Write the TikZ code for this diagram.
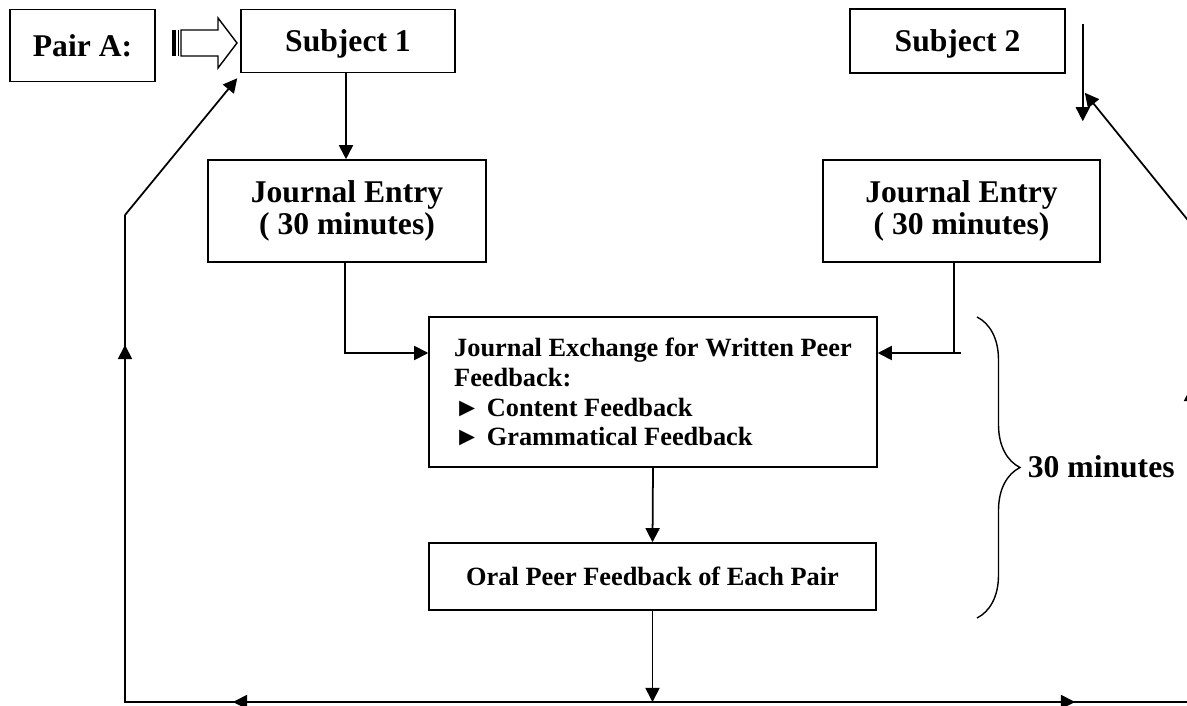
\documentclass[tikz,border=0pt]{standalone}
\usepackage{fontspec}
\setmainfont{Liberation Serif}
\usetikzlibrary{arrows.meta,calc,decorations.pathreplacing}

\begin{document}
\begin{tikzpicture}[x=0.02cm,y=-0.02cm,line width=1pt,
    >={Triangle[length=8pt,width=8pt]},
    box/.style={draw,line width=0.9pt,inner sep=0pt,align=center,
      font=\bfseries\fontsize{18}{18}\selectfont},
    smallbox/.style={box,font=\bfseries\fontsize{15}{17}\selectfont}]
  \useasboundingbox (0,0) rectangle (1187,706);
  \clip (0,0) rectangle (1187,706);
  \draw
    (82.5,45.5) node[box,minimum width=2.9cm,minimum height=1.44cm] (pair){Pair A:}
    (348,41) node[box,text depth=0pt,minimum width=4.28cm,minimum height=1.26cm] (subA){Subject 1}
    (957.5,41) node[box,text depth=0pt,minimum width=4.3cm,minimum height=1.28cm] (subB){Subject 2}
    (347,211) node[box,minimum width=5.56cm,minimum height=2.04cm] (jeA){Journal Entry\\( 30 minutes)}
    (961.5,211) node[box,minimum width=5.54cm,minimum height=2.04cm] (jeB){Journal Entry\\( 30 minutes)}
    (653,392) node[smallbox,align=left,minimum width=8.96cm,minimum height=3cm] (exch){Journal Exchange for Written Peer\\Feedback:\\► Content Feedback\\► Grammatical Feedback}
    (652.5,576.5) node[smallbox,minimum width=8.94cm,minimum height=1.34cm] (oral){Oral Peer Feedback of Each Pair};
  \node[anchor=west,inner sep=0pt,font=\bfseries\fontsize{18}{18}\selectfont] (dur) at (1027,467) {30 minutes};

  % striped arrow from Pair A
  \fill (172,30) rectangle (175.5,56);
  \draw[line width=0.8pt] (178.5,30) -- (178.5,56);
  \draw[line width=0.8pt] (181,30) -- (218,30) -- (218,18) -- (237,43)
    -- (218,68) -- (218,56) -- (181,56) -- cycle;

  \coordinate (a1) at ($(subA.south)+(-2,0)$);
  \coordinate (kA) at ($(exch.west)+(-83,-39)$);
  \coordinate (kB) at ($(exch.east)+(76,-39)$);
  \coordinate (dn) at ($(subB.north east)+(17,16)$);
  \coordinate (bl) at (125,702);
  \coordinate (br) at (1191,702);
  \coordinate (lt) at (125,215);
  \coordinate (rt) at (1191,224);
  \coordinate (hub) at (oral.south |- bl);

  \begin{scope}[->]
    \draw (a1) -- (a1 |- jeA.north);
    \draw[-] (kA |- jeA.south) -- (kA);
    \draw ($(kA)+(-1,0)$) -- (kA -| exch.west);
    \draw[-] (kB |- jeB.south) -- (kB);
    \draw ($(kB)+(7,0)$) -- (kB -| exch.east);
    \draw (exch.south) -- (oral.north);
    \draw (oral.south) -- (hub);
    % back to the subjects
    \draw (hub) -- ($(bl)+(108,0)$);
    \draw (hub) -- ($(br)+(-116,0)$);
    \draw[-] (hub) -- (bl) -- (lt);
    \draw[-] (hub) -- (br) -- (rt);
    \draw (bl) -- ($(bl)+(0,-357)$);
    \draw (br) -- ($(br)+(0,-315)$);
    \draw (lt) -- ($(subA.south west)+(-3,5)$);
    \draw (rt) -- ($(subB.south east)+(19,19)$);
    \draw (dn) -- ++(0,97);
  \end{scope}

  \draw[decorate,decoration={brace,amplitude=0.86cm},line width=0.8pt]
    (977,317) -- (977,618);
\end{tikzpicture}
\end{document}
